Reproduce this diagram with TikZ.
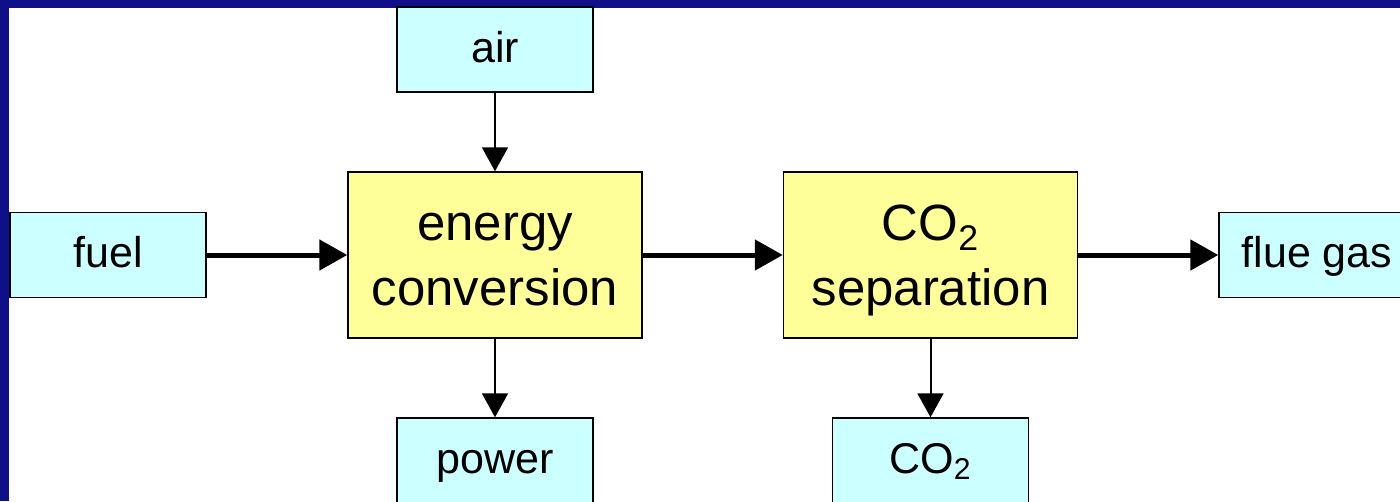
\documentclass[tikz,border=0pt]{standalone}
\usepackage{fontspec}
\setmainfont{Liberation Sans}
\usepackage{xcolor}
\usetikzlibrary{arrows.meta}
\definecolor{frameblue}{HTML}{0F0F8A}
\definecolor{streamcyan}{HTML}{CCFFFF}
\definecolor{unityellow}{HTML}{FFFF99}
\tikzset{
  stream/.style={draw=black, line width=0.85pt, fill=streamcyan, inner sep=0pt,
    minimum width=3.92cm, minimum height=1.70cm,
    font=\fontsize{24.5}{29}\selectfont, text height=19.5pt, text depth=4.9pt},
  unit/.style={draw=black, line width=0.85pt, fill=unityellow, inner sep=0pt,
    minimum width=5.88cm, minimum height=3.32cm, align=center,
    font=\fontsize{29}{37}\selectfont, text height=58pt, text depth=0pt},
  mainflow/.style={-{Triangle[length=0.56cm, width=0.60cm]}, line width=0.1cm},
  sideflow/.style={-{Triangle[length=0.48cm, width=0.52cm]}, line width=0.04cm}
}

\begin{document}
\begin{tikzpicture}[x=0.02cm, y=-0.02cm]
\useasboundingbox (0,0) rectangle (1400,501);
\clip (0,0) rectangle (1400,501);
\fill[frameblue] (0,0) rectangle (1400,501);
\fill[white] (9,8) rectangle (1400,501);

% process units
\node[unit] (energy) at (495,255) {energy\\conversion};
\node[unit] (sep) at (930.5,255) {CO\textsubscript{2}\\separation};

% streams in and out
\node[stream] (air) at (495,49.5) {air};
\node[stream] (fuel) at (108,255) {fuel};
\node[stream] (flue) at (1317,255) {flue gas};
\node[stream] (power) at (495,460.5) {power};
\node[stream] (co2) at (930.5,460.5) {CO\textsubscript{2}};

\draw[mainflow] (fuel) -- (energy);
\draw[mainflow] (energy) -- (sep);
\draw[mainflow] (sep) -- (flue);
\draw[sideflow] (air) -- (energy);
\draw[sideflow] (energy) -- (power);
\draw[sideflow] (sep) -- (co2);
\end{tikzpicture}
\end{document}
